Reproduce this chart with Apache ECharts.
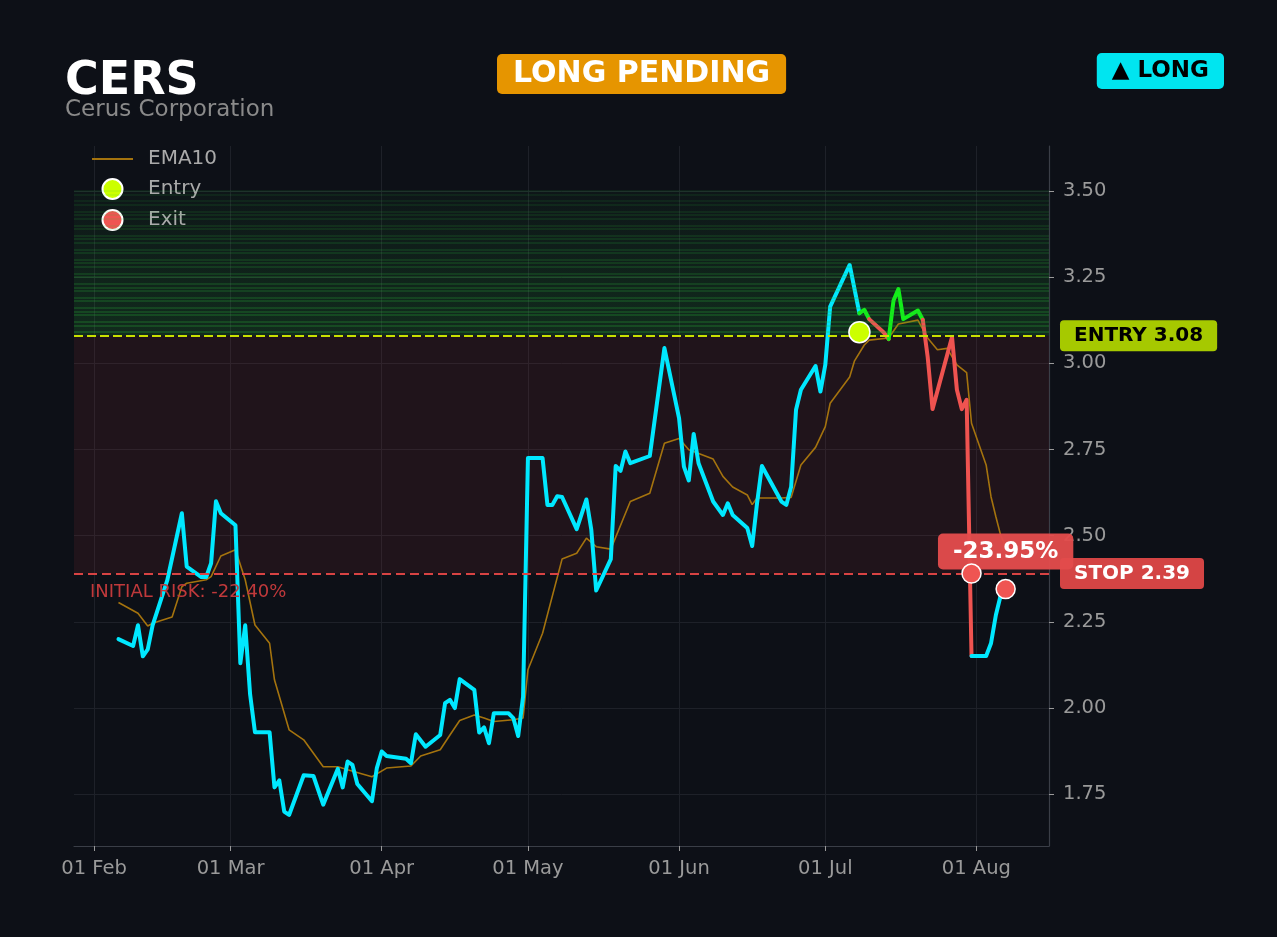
<!DOCTYPE html>
<html><head><meta charset="utf-8">
<script src="https://cdn.jsdelivr.net/npm/echarts@6/dist/echarts.min.js"></script>
<style>html,body{margin:0;padding:0;background:#0d1017;}#c{width:1277px;height:937px;}</style>
</head><body><div id="c"></div>
<script>
// ---------- data ----------
const ticker = 'CERS';
const companyName = 'Cerus Corporation';
const statusText = 'LONG PENDING';
const sideText = '▲ LONG';
const entryPrice = 3.08;
const stopPrice = 2.39;
const zoneTop = 3.50;
const initialRiskText = 'INITIAL RISK: -22.40%';
const pnlText = '-23.95%';

const priceDates = ['2025-02-06','2025-02-09','2025-02-10','2025-02-11','2025-02-12','2025-02-13','2025-02-16','2025-02-19','2025-02-20','2025-02-23','2025-02-24','2025-02-25','2025-02-26','2025-02-27','2025-03-02','2025-03-03','2025-03-04','2025-03-05','2025-03-06','2025-03-09','2025-03-10','2025-03-11','2025-03-12','2025-03-13','2025-03-16','2025-03-18','2025-03-20','2025-03-23','2025-03-24','2025-03-25','2025-03-26','2025-03-27','2025-03-30','2025-03-31','2025-04-01','2025-04-02','2025-04-06','2025-04-07','2025-04-08','2025-04-10','2025-04-13','2025-04-14','2025-04-15','2025-04-16','2025-04-17','2025-04-20','2025-04-21','2025-04-22','2025-04-23','2025-04-24','2025-04-27','2025-04-28','2025-04-29','2025-04-30','2025-05-01','2025-05-04','2025-05-05','2025-05-06','2025-05-07','2025-05-08','2025-05-11','2025-05-13','2025-05-14','2025-05-15','2025-05-18','2025-05-19','2025-05-20','2025-05-21','2025-05-22','2025-05-26','2025-05-29','2025-06-01','2025-06-02','2025-06-03','2025-06-04','2025-06-05','2025-06-08','2025-06-10','2025-06-11','2025-06-12','2025-06-15','2025-06-16','2025-06-17','2025-06-18','2025-06-22','2025-06-23','2025-06-24','2025-06-25','2025-06-26','2025-06-29','2025-06-30','2025-07-01','2025-07-02','2025-07-06','2025-07-08','2025-07-09','2025-07-10','2025-07-13','2025-07-14','2025-07-15','2025-07-16','2025-07-17','2025-07-20','2025-07-21','2025-07-22','2025-07-23','2025-07-27','2025-07-28','2025-07-29','2025-07-30','2025-07-31','2025-08-03','2025-08-04','2025-08-05','2025-08-06','2025-08-07'];
const priceValues = [2.20,2.18,2.24,2.15,2.17,2.24,2.37,2.565,2.41,2.38,2.38,2.42,2.60,2.565,2.53,2.13,2.24,2.04,1.93,1.93,1.77,1.79,1.70,1.69,1.805,1.803,1.72,1.824,1.77,1.845,1.835,1.78,1.73,1.826,1.874,1.861,1.853,1.84,1.924,1.888,1.922,2.014,2.024,2.00,2.084,2.053,1.929,1.944,1.898,1.985,1.985,1.971,1.919,2.033,2.725,2.725,2.589,2.589,2.614,2.612,2.519,2.605,2.517,2.341,2.432,2.702,2.688,2.744,2.71,2.731,3.044,2.841,2.70,2.66,2.795,2.71,2.599,2.56,2.594,2.56,2.522,2.47,2.594,2.702,2.599,2.589,2.642,2.865,2.923,2.992,2.918,2.995,3.164,3.285,3.145,3.155,3.128,3.089,3.070,3.182,3.215,3.128,3.153,3.126,3.019,2.867,3.076,2.923,2.867,2.894,2.151,2.151,2.188,2.27,2.328,2.345];

const emaDates = ['2025-02-06','2025-02-10','2025-02-12','2025-02-13','2025-02-17','2025-02-19','2025-02-20','2025-02-24','2025-02-25','2025-02-27','2025-03-02','2025-03-04','2025-03-06','2025-03-09','2025-03-10','2025-03-13','2025-03-16','2025-03-18','2025-03-20','2025-03-23','2025-03-25','2025-03-30','2025-04-02','2025-04-07','2025-04-09','2025-04-13','2025-04-15','2025-04-17','2025-04-20','2025-04-22','2025-04-24','2025-04-28','2025-04-30','2025-05-01','2025-05-04','2025-05-08','2025-05-11','2025-05-13','2025-05-15','2025-05-18','2025-05-22','2025-05-26','2025-05-29','2025-06-01','2025-06-03','2025-06-08','2025-06-10','2025-06-12','2025-06-15','2025-06-16','2025-06-17','2025-06-22','2025-06-24','2025-06-26','2025-06-29','2025-07-01','2025-07-02','2025-07-06','2025-07-07','2025-07-09','2025-07-10','2025-07-14','2025-07-16','2025-07-20','2025-07-22','2025-07-24','2025-07-26','2025-07-28','2025-07-30','2025-07-31','2025-08-03','2025-08-04','2025-08-05','2025-08-06','2025-08-07'];
const emaValues = [2.306,2.275,2.238,2.246,2.264,2.352,2.362,2.372,2.381,2.441,2.459,2.372,2.241,2.188,2.082,1.937,1.908,1.869,1.830,1.830,1.821,1.801,1.826,1.832,1.861,1.879,1.922,1.964,1.980,1.971,1.961,1.966,1.971,2.111,2.217,2.432,2.449,2.493,2.468,2.461,2.599,2.623,2.768,2.782,2.749,2.722,2.672,2.641,2.618,2.590,2.609,2.609,2.611,2.705,2.756,2.816,2.884,2.960,3.007,3.053,3.067,3.073,3.114,3.125,3.073,3.039,3.043,2.995,2.973,2.826,2.705,2.613,2.555,2.50,2.47];

const entryPoints = [['2025-07-08', 3.09]];
const exitPoints = [['2025-07-31', 2.39], ['2025-08-07', 2.345]];

// price line colouring by trade phase
const segments = [
  {from:'2025-02-06', to:'2025-07-08', color:'#00e8ff'},
  {from:'2025-07-08', to:'2025-07-10', color:'#12f018'},
  {from:'2025-07-10', to:'2025-07-14', color:'#ef5350'},
  {from:'2025-07-14', to:'2025-07-21', color:'#12f018'},
  {from:'2025-07-21', to:'2025-07-31', color:'#ef5350'},
  {from:'2025-07-31', to:'2025-08-07', color:'#00e8ff'}
];

const yTicks = [1.75, 2.00, 2.25, 2.50, 2.75, 3.00, 3.25, 3.50];
const xTicks = ['2025-02-01','2025-03-01','2025-04-01','2025-05-01','2025-06-01','2025-07-01','2025-08-01'];
const xMin = '2025-01-27T21:00:00Z';
const xMax = '2025-08-15T21:30:00Z';
const monthNames = ['Jan','Feb','Mar','Apr','May','Jun','Jul','Aug','Sep','Oct','Nov','Dec'];

// ---------- build ----------
const FONT = 'DejaVu Sans';
const toTs = s => Date.parse(s.length === 10 ? s + 'T00:00:00Z' : s);
const pricePts = priceDates.map((d, i) => [toTs(d), priceValues[i]]);
const emaPts = emaDates.map((d, i) => [toTs(d), emaValues[i]]);

const segSeries = segments.map((seg, k) => ({
  name: 'price' + k, type: 'line', z: 4, silent: true, showSymbol: false, symbol: 'none',
  data: pricePts.filter(p => p[0] >= toTs(seg.from) && p[0] <= toTs(seg.to)),
  lineStyle: {color: seg.color, width: 4, join: 'round', cap: 'round'},
  itemStyle: {color: seg.color}
}));

const N = 30;
const stripeLines = [];
for (let i = 1; i <= N; i++) {
  const f = i / N;
  stripeLines.push({
    yAxis: entryPrice + (zoneTop - entryPrice) * f,
    lineStyle: {color: 'rgba(45,190,60,' + (0.32 - 0.2 * f).toFixed(3) + ')', width: 1.6, type: 'solid'},
    label: {show: false}
  });
}

const boxLabel = (text, bg, fg) => ({
  show: true, position: 'end', distance: 11, formatter: text,
  color: fg, backgroundColor: bg, fontFamily: FONT, fontSize: 20, fontWeight: 'bold',
  padding: [5, 14, 5, 14], lineHeight: 21, borderRadius: 4
});

const zoneSeries = {
  name: 'zones', type: 'line', z: 1, silent: true, data: [],
  markArea: {
    silent: true,
    data: [
      [{yAxis: stopPrice, itemStyle: {color: 'rgba(210,60,70,0.10)'}}, {yAxis: entryPrice}],
      [{yAxis: entryPrice, itemStyle: {color: {type: 'linear', x: 0, y: 0, x2: 0, y2: 1,
        colorStops: [{offset: 0, color: 'rgba(40,200,60,0.03)'}, {offset: 1, color: 'rgba(40,200,60,0.15)'}]}}},
       {yAxis: zoneTop}]
    ]
  },
  markLine: {
    silent: true, symbol: 'none', animation: false,
    label: {show: false},
    data: stripeLines.concat([
      {yAxis: entryPrice, lineStyle: {color: '#c8e000', width: 2, type: [9, 4]},
       label: boxLabel('ENTRY ' + entryPrice.toFixed(2), '#a6c900', '#000000')},
      {yAxis: stopPrice, lineStyle: {color: '#d84343', width: 2, type: [9, 5]},
       label: boxLabel('STOP ' + stopPrice.toFixed(2), '#d44444', '#ffffff')},
      {yAxis: stopPrice, lineStyle: {color: 'rgba(0,0,0,0)', width: 1, type: 'solid'},
       label: {show: true, position: 'insideStartBottom', formatter: initialRiskText, distance: [16, 10],
               color: '#c0393b', fontFamily: FONT, fontSize: 18}}
    ])
  }
};

const option = {
  backgroundColor: '#0d1017',
  animation: false,
  textStyle: {fontFamily: FONT},
  title: [
    {text: ticker, left: 65, top: 59, padding: 0,
     textStyle: {color: '#ffffff', fontSize: 46, fontWeight: 'bold', fontFamily: FONT}},
    {text: companyName, left: 65, top: 99, padding: 0,
     textStyle: {color: '#8a8a8a', fontSize: 23, fontWeight: 'normal', fontFamily: FONT}},
    {text: statusText, left: 497, top: 54, backgroundColor: '#e69500', borderRadius: 5, padding: [5, 16, 5, 16],
     textStyle: {color: '#ffffff', fontSize: 30, fontWeight: 'bold', lineHeight: 30, fontFamily: FONT}},
    {text: sideText, right: 53, top: 53, backgroundColor: '#00e5f0', borderRadius: 5, padding: [6, 15, 6, 15],
     textStyle: {color: '#000000', fontSize: 23, fontWeight: 'bold', lineHeight: 24, fontFamily: FONT}}
  ],
  legend: {
    orient: 'vertical', left: 92, top: 149, padding: 0, itemWidth: 41, itemHeight: 20, itemGap: 9,
    textStyle: {color: '#aaaaaa', fontSize: 20, lineHeight: 20, fontFamily: FONT, padding: [0, 0, 0, 10]},
    data: [{name: 'EMA10', icon: 'path://M0 0H40V2H0Z'}, 'Entry', 'Exit']
  },
  grid: {left: 74, right: 228, top: 146, bottom: 91, containLabel: false, outerBoundsMode: 'none'},
  xAxis: {
    type: 'value', min: toTs(xMin), max: toTs(xMax),
    axisLine: {show: true, lineStyle: {color: '#3a3e47', width: 1.2}},
    axisTick: {show: true, customValues: xTicks.map(toTs), length: 5, lineStyle: {color: '#9a9a9a'}},
    axisLabel: {customValues: xTicks.map(toTs), color: '#9a9a9a', fontSize: 19.5, fontFamily: FONT, margin: 13,
      formatter: v => { const d = new Date(v); return String(d.getUTCDate()).padStart(2, '0') + ' ' + monthNames[d.getUTCMonth()]; }},
    splitLine: {show: true, lineStyle: {color: '#1e2129', width: 1}}
  },
  yAxis: {
    type: 'value', position: 'right', min: 1.6, max: 3.63,
    axisLine: {show: true, lineStyle: {color: '#3a3e47', width: 1.2}},
    axisTick: {show: true, customValues: yTicks, length: 5, lineStyle: {color: '#9a9a9a'}},
    axisLabel: {customValues: yTicks, color: '#9a9a9a', fontSize: 19.5, fontFamily: FONT, margin: 14,
      formatter: v => v.toFixed(2)},
    splitLine: {show: true, lineStyle: {color: '#1e2129', width: 1}}
  },
  series: [
    zoneSeries,
    {name: 'EMA10', type: 'line', z: 3, silent: true, showSymbol: false, symbol: 'none', data: emaPts,
     lineStyle: {color: '#a4730e', width: 1.6}, itemStyle: {color: '#a4730e'}},
    ...segSeries,
    {name: 'pnl', type: 'scatter', z: 5, silent: true, symbolSize: 0,
     data: [[toTs(exitPoints[exitPoints.length - 1][0]), stopPrice]],
     itemStyle: {color: 'rgba(0,0,0,0)', opacity: 1},
     label: {show: true, position: 'top', distance: 4, formatter: pnlText, color: '#ffffff',
             backgroundColor: 'rgba(226,76,76,0.96)', borderRadius: 5, padding: [6, 15, 6, 15],
             fontSize: 23, lineHeight: 24, fontWeight: 'bold', fontFamily: FONT}},
    {name: 'Entry', type: 'scatter', z: 6, silent: true, symbolSize: 21,
     data: entryPoints.map(p => [toTs(p[0]), p[1]]),
     itemStyle: {color: '#ccff00', borderColor: '#ffffff', borderWidth: 1.5, opacity: 1}},
    {name: 'Exit', type: 'scatter', z: 6, silent: true, symbolSize: 19,
     data: exitPoints.map(p => [toTs(p[0]), p[1]]),
     itemStyle: {color: '#ef5552', borderColor: '#ffffff', borderWidth: 1.5, opacity: 1}}
  ]
};

const chart = echarts.init(document.getElementById('c'), null, {renderer: 'canvas'});
chart.setOption(option);
</script>
</body></html>
